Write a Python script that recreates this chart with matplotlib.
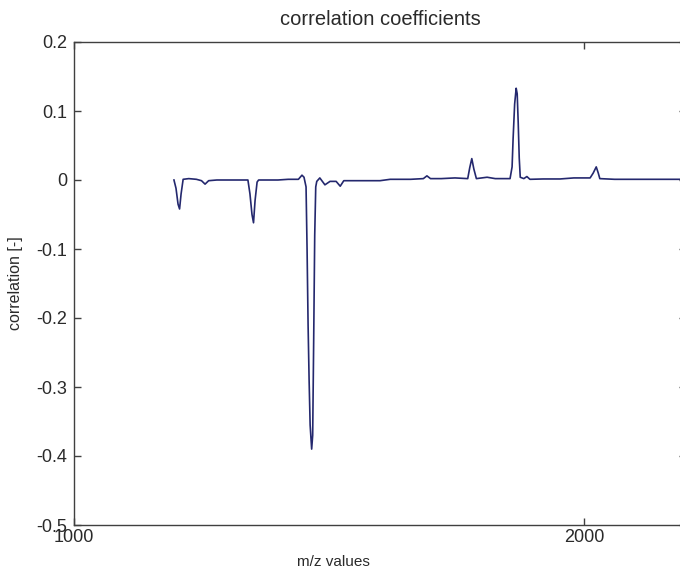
import matplotlib
matplotlib.use("Agg")
import matplotlib.pyplot as plt

# m/z positions and correlation coefficient at each position
mz = [1196, 1200, 1204, 1207, 1210, 1214, 1225, 1240, 1250, 1257, 1264, 1280,
      1300, 1320, 1341, 1345, 1349, 1352, 1355, 1359, 1362, 1380, 1400, 1420,
      1440, 1447, 1451, 1455, 1457, 1459, 1461, 1463, 1466, 1468, 1470, 1472,
      1474, 1476, 1482, 1492, 1502, 1514, 1522, 1529, 1560, 1600, 1620, 1660,
      1685, 1692, 1699, 1720, 1747, 1772, 1776, 1780, 1784, 1789, 1810, 1826,
      1855, 1859, 1861, 1864, 1867, 1869, 1871, 1873, 1875, 1882, 1888, 1894,
      1920, 1953, 1980, 2012, 2018, 2024, 2028, 2031, 2060, 2100, 2150, 2200]
corr = [0.0, -0.012, -0.035, -0.042, -0.02, 0.001, 0.002, 0.001, -0.001, -0.006, -0.001, 0.0,
        0.0, 0.0, 0.0, -0.02, -0.05, -0.062, -0.03, -0.003, 0.0, 0.0, 0.0, 0.001,
        0.001, 0.007, 0.004, -0.01, -0.1, -0.21, -0.29, -0.355, -0.39, -0.37, -0.23, -0.08,
        -0.01, -0.002, 0.003, -0.007, -0.002, -0.002, -0.009, -0.001, -0.001, -0.001, 0.001, 0.001,
        0.002, 0.006, 0.002, 0.002, 0.003, 0.002, 0.018, 0.031, 0.016, 0.002, 0.004, 0.002,
        0.002, 0.019, 0.06, 0.11, 0.133, 0.125, 0.083, 0.032, 0.004, 0.002, 0.005, 0.001,
        0.0015, 0.0015, 0.003, 0.003, 0.01, 0.019, 0.01, 0.002, 0.001, 0.001, 0.001, 0.001]

plt.rcParams['font.family'] = ['Liberation Sans', 'DejaVu Sans']
txt = '#2a2a2a'

fig = plt.figure(figsize=(6.8, 5.72), dpi=100)
# axes runs a little past the right border of the figure
ax = fig.add_axes([74/680, 47/572, 612/680, 483/572])
ax.plot(mz, corr, color='#24286e', lw=1.2)

ax.set_xlim(1000, 2200)
ax.set_ylim(-0.5, 0.2)
ax.set_xticks([1000, 2000])
ax.set_yticks([0.2, 0.1, 0, -0.1, -0.2, -0.3, -0.4, -0.5])
ax.set_yticklabels(['0.2', '0.1', '0', '-0.1', '-0.2', '-0.3', '-0.4', '-0.5'])
ax.tick_params(direction='in', top=True, right=True, length=5, width=1,
               labelsize=13, colors='#404040', labelcolor=txt, pad=5)
ax.tick_params(axis='x', pad=3)
for s in ax.spines.values():
    s.set_color('#404040')
    s.set_linewidth(1.0)

ax.set_title('correlation coefficients', fontsize=14.5, color=txt, pad=12)
ax.set_xlabel('m/z values', fontsize=11, color=txt)
ax.xaxis.set_label_coords(0.424, -0.062)
ax.set_ylabel('correlation [-]', fontsize=11.5, color=txt)
ax.yaxis.set_label_coords(-0.083, 0.5)

fig.savefig('out.png', dpi=100)
